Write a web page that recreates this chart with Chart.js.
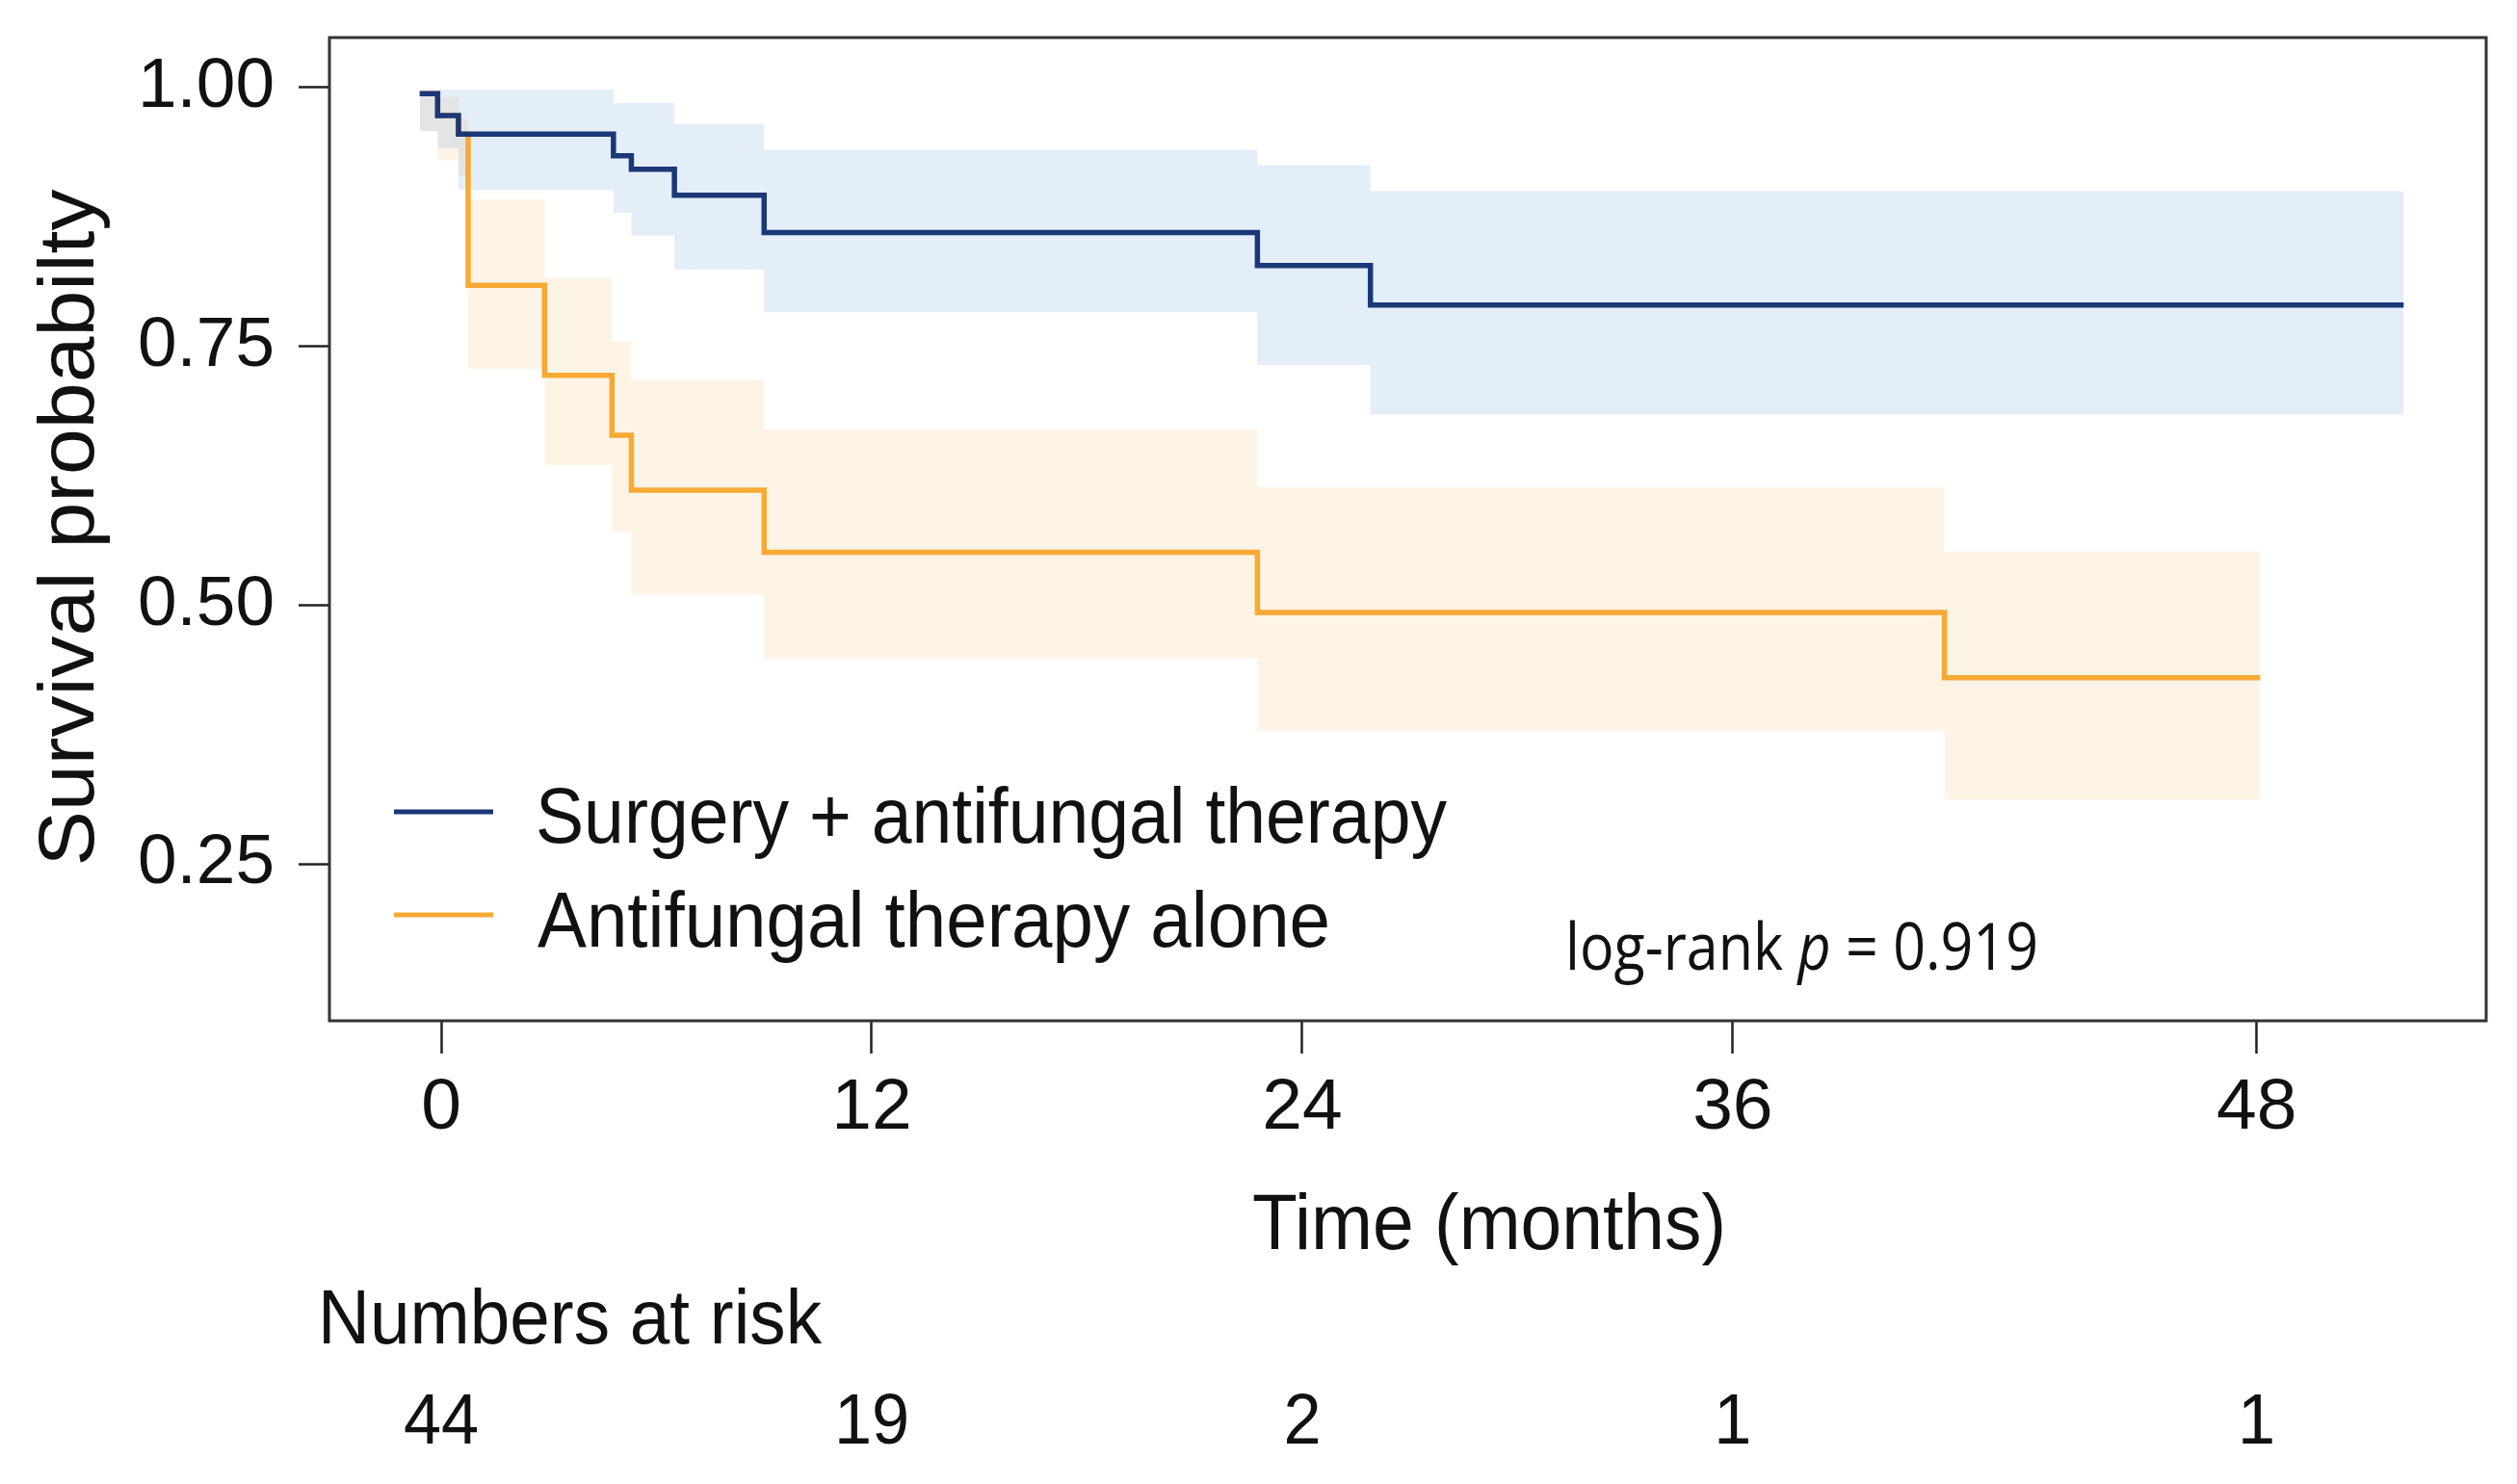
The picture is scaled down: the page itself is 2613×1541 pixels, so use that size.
<!DOCTYPE html>
<html>
<head>
<meta charset="utf-8">
<script src="https://cdn.jsdelivr.net/npm/chart.js@4.4.1/dist/chart.umd.min.js"></script>
<style>
  html, body { margin: 0; padding: 0; background: #ffffff; overflow: hidden; }
  canvas { display: block; }
</style>
</head>
<body>
<canvas id="km" width="2613" height="1541"></canvas>
<script>
// ---------------- data ----------------
const blueName   = 'Surgery + antifungal therapy';
const orangeName = 'Antifungal therapy alone';

const blueTime  = [-0.6, -0.1, 0.48, 4.8, 5.3, 6.5, 9.0, 22.75, 25.9, 54.7];
const blueSurv  = [0.994, 0.973, 0.955, 0.934, 0.921, 0.896, 0.860, 0.828, 0.790, 0.790];
const blueUpper = [0.996, 0.998, 0.998, 0.985, 0.985, 0.965, 0.940, 0.925, 0.900, 0.900];
const blueLower = [0.958, 0.941, 0.901, 0.879, 0.857, 0.824, 0.783, 0.732, 0.684, 0.684];

const orangeTime  = [-0.6, -0.1, 0.48, 0.75, 2.88, 4.76, 5.3, 9.0, 22.75, 41.9, 50.7];
const orangeSurv  = [0.994, 0.973, 0.955, 0.809, 0.722, 0.664, 0.611, 0.551, 0.493, 0.430, 0.430];
const orangeUpper = [0.996, 0.990, 0.970, 0.892, 0.816, 0.755, 0.718, 0.670, 0.614, 0.552, 0.552];
const orangeLower = [0.958, 0.930, 0.915, 0.728, 0.635, 0.571, 0.510, 0.448, 0.378, 0.312, 0.312];

const xTickValues = [0, 12, 24, 36, 50.6];
const xTickLabels = ['0', '12', '24', '36', '48'];
const yTickValues = [0.25, 0.50, 0.75, 1.00];
const yTickLabels = ['0.25', '0.50', '0.75', '1.00'];
const riskCounts  = [44, 19, 2, 1, 1];

const xTitle = 'Time (months)';
const yTitle = 'Survival probabilty';
const riskTitle = 'Numbers at risk';
const pText = ['log-rank ', 'p', ' = 0.919'];

// ---------------- styles ----------------
const FAMILY = '"Liberation Sans", Arial, Helvetica, sans-serif';
const BLUE = '#1a3877';
const ORANGE = '#f7a934';
const BLUE_BAND = 'rgba(120,170,225,0.20)';
const ORANGE_BAND = 'rgba(250,170,60,0.13)';

function pts(xs, ys) { return xs.map((x, i) => ({ x: x, y: ys[i] })); }

function bandDataset(xs, ys, color, fill, order) {
  return {
    data: pts(xs, ys), stepped: true, borderWidth: 0, pointRadius: 0,
    backgroundColor: color, borderColor: 'rgba(0,0,0,0)', fill: fill, order: order
  };
}
function lineDataset(xs, ys, color, order) {
  return {
    data: pts(xs, ys), stepped: true, borderWidth: 5.5, pointRadius: 0,
    borderColor: color, backgroundColor: color, fill: false, order: order,
    borderCapStyle: 'butt', borderJoinStyle: 'miter'
  };
}

function fitText(ctx, parts, x, y, size, family, width, align) {
  let total = 0;
  parts.forEach(p => {
    ctx.font = (p.italic ? 'italic ' : '') + size + 'px ' + family;
    p.w = ctx.measureText(p.t).width; total += p.w;
  });
  const sx = width ? width / total : 1;
  const w = total * sx;
  const sx0 = align === 'center' ? x - w / 2 : (align === 'right' ? x - w : x);
  ctx.save();
  ctx.translate(sx0, y);
  ctx.scale(sx, 1);
  ctx.textAlign = 'left';
  ctx.textBaseline = 'alphabetic';
  let cx = 0;
  parts.forEach(p => {
    ctx.font = (p.italic ? 'italic ' : '') + size + 'px ' + family;
    ctx.fillText(p.t, cx, 0);
    cx += p.w;
  });
  ctx.restore();
}

const decorPlugin = {
  id: 'decor',
  afterDraw(chart) {
    const ctx = chart.ctx;
    const a = chart.chartArea;
    const xs = chart.scales.x;
    ctx.save();
    // plot frame
    ctx.strokeStyle = '#333333';
    ctx.lineWidth = 3;
    ctx.strokeRect(a.left, a.top, a.right - a.left, a.bottom - a.top);

    ctx.fillStyle = '#111111';
    // legend
    ctx.lineWidth = 5;
    ctx.strokeStyle = BLUE;
    ctx.beginPath(); ctx.moveTo(409, 843); ctx.lineTo(512, 843); ctx.stroke();
    ctx.strokeStyle = ORANGE;
    ctx.beginPath(); ctx.moveTo(409, 950); ctx.lineTo(512, 950); ctx.stroke();
    fitText(ctx, [{ t: blueName }], 556, 875, 82, FAMILY, 946, 'left');
    fitText(ctx, [{ t: orangeName }], 558, 983, 82, FAMILY, 823, 'left');

    // log-rank annotation
    fitText(ctx, [{ t: pText[0] }, { t: pText[1], italic: true }, { t: pText[2] }],
      1625, 1007, 68, '"Open Sans", "Noto Sans", sans-serif', 491, 'left');

    // axis titles
    fitText(ctx, [{ t: xTitle }], 1546, 1297, 82, FAMILY, 492, 'center');
    ctx.save();
    ctx.translate(97, 548);
    ctx.rotate(-Math.PI / 2);
    fitText(ctx, [{ t: yTitle }], 0, 0, 82, FAMILY, 703, 'center');
    ctx.restore();

    // numbers at risk
    fitText(ctx, [{ t: riskTitle }], 330, 1395, 80, FAMILY, 523, 'left');
    riskCounts.forEach((n, i) => {
      const px = xs.getPixelForValue(xTickValues[i]);
      ctx.save();
      ctx.translate(px, 1499);
      ctx.scale(0.95, 1);
      ctx.font = '74px ' + FAMILY;
      ctx.textAlign = 'center';
      ctx.textBaseline = 'alphabetic';
      ctx.fillText(String(n), 0, 0);
      ctx.restore();
    });
    ctx.restore();
  }
};

Chart.defaults.font.family = FAMILY;

new Chart(document.getElementById('km'), {
  type: 'line',
  data: {
    datasets: [
      bandDataset(blueTime, blueUpper, BLUE_BAND, '+1', 10),
      bandDataset(blueTime, blueLower, BLUE_BAND, false, 11),
      bandDataset(orangeTime, orangeUpper, ORANGE_BAND, '+1', 12),
      bandDataset(orangeTime, orangeLower, ORANGE_BAND, false, 13),
      lineDataset(orangeTime, orangeSurv, ORANGE, 2),
      lineDataset(blueTime, blueSurv, BLUE, 1)
    ]
  },
  options: {
    responsive: false,
    animation: false,
    devicePixelRatio: 1,
    layout: { padding: { top: 39, right: 32, left: 0, bottom: 0 } },
    plugins: { legend: { display: false }, tooltip: { enabled: false } },
    scales: {
      x: {
        type: 'linear', min: -3.116, max: 57.0,
        afterBuildTicks: s => { s.ticks = xTickValues.map(v => ({ value: v })); },
        afterFit: s => { s.height = 1541 - 1060; s.paddingLeft = 0; s.paddingRight = 0; },
        ticks: {
          callback: (v, i) => xTickLabels[i],
          font: { size: 75 }, color: '#111111', padding: 12, maxRotation: 0, autoSkip: false
        },
        grid: { drawOnChartArea: false, drawTicks: true, tickLength: 34, tickColor: '#222222', tickWidth: 2.5, color: '#222222' },
        border: { display: false }
      },
      y: {
        type: 'linear', min: 0.0985, max: 1.0483,
        afterBuildTicks: s => { s.ticks = yTickValues.map(v => ({ value: v })); },
        afterFit: s => { s.width = 342; s.paddingTop = 0; s.paddingBottom = 0; },
        ticks: {
          callback: (v, i) => yTickLabels[i],
          font: { size: 73 }, color: '#111111', padding: 25, autoSkip: false
        },
        grid: { drawOnChartArea: false, drawTicks: true, tickLength: 32, tickColor: '#222222', tickWidth: 2.5, color: '#222222' },
        border: { display: false }
      }
    }
  },
  plugins: [decorPlugin]
});
</script>
</body>
</html>
